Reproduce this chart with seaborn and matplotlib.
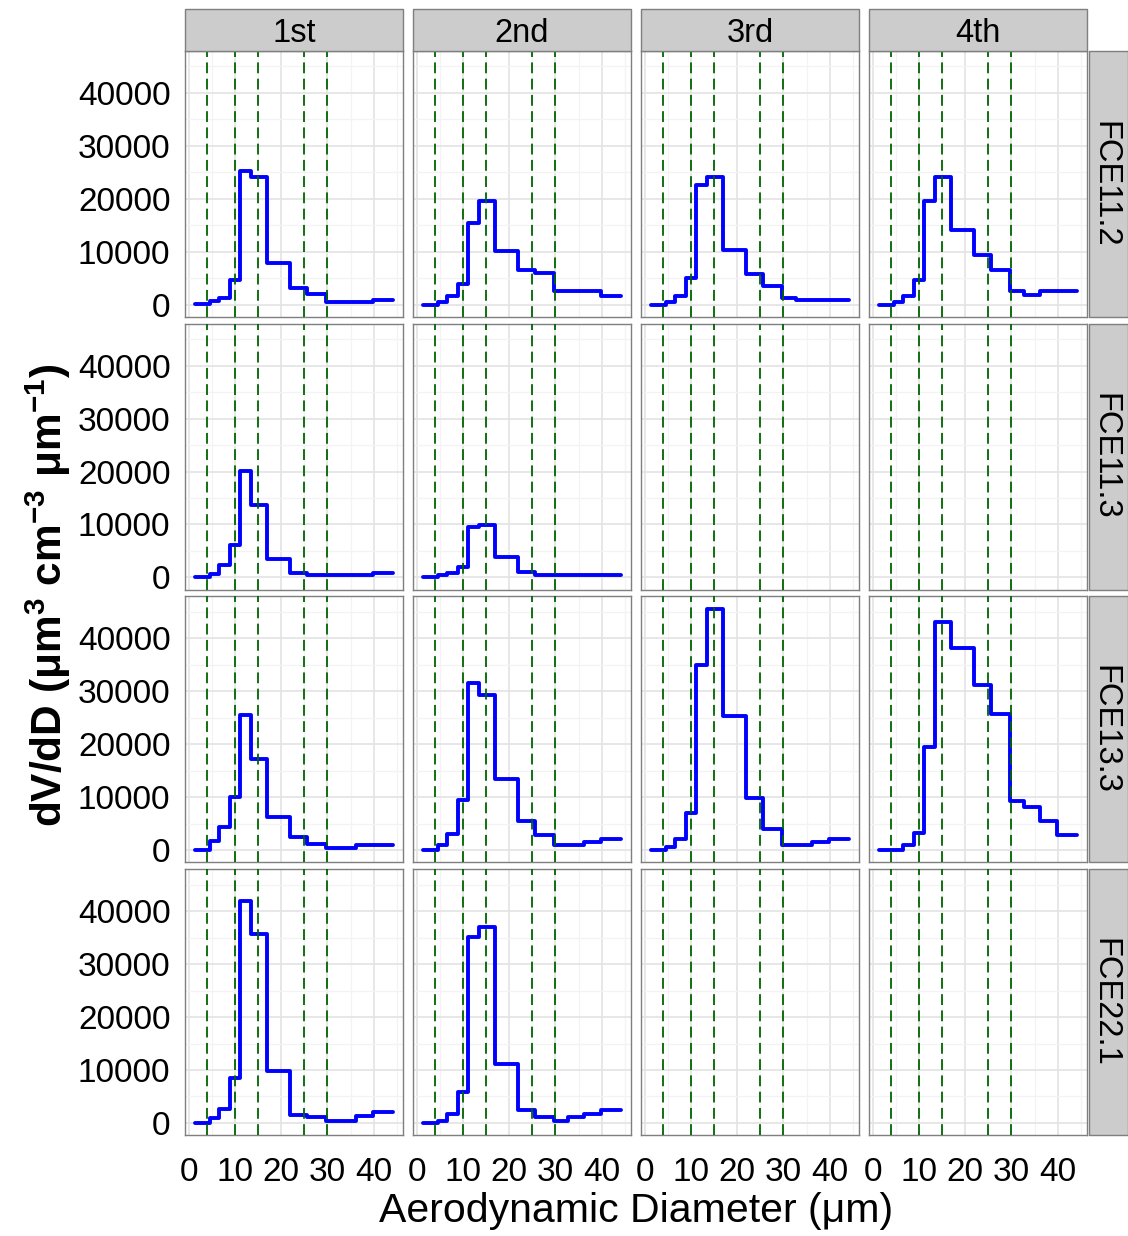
import numpy as np
import pandas as pd
import matplotlib
matplotlib.use("Agg")
import matplotlib.pyplot as plt
from matplotlib.patches import Rectangle
from matplotlib.ticker import MultipleLocator
import seaborn as sns

# ---------------- data ----------------
diameter = [1.3, 4.5, 6.5, 9.0, 11.1, 13.4, 16.9, 21.8, 25.6, 29.6, 32.8, 36.1, 39.9, 44.2]

sites = ["FCE11.2", "FCE11.3", "FCE13.3", "FCE22.1"]
visits = ["1st", "2nd", "3rd", "4th"]

fce112_1st = [130, 630, 1270, 4680, 25300, 24180, 7850, 3160, 2030, 440, 440, 440, 890, 890]
fce112_2nd = [0, 440, 1580, 3920, 15440, 19560, 10060, 6580, 5950, 2530, 2530, 2530, 1580, 1580]
fce112_3rd = [0, 440, 1580, 5060, 22600, 24180, 10380, 5820, 3480, 1270, 890, 890, 890, 890]
fce112_4th = [0, 440, 1710, 4680, 19560, 24180, 14050, 9300, 6580, 2530, 1900, 2530, 2530, 2530]

fce113_1st = [0, 570, 2340, 6140, 20190, 13670, 3420, 760, 440, 440, 440, 440, 760, 760]
fce113_2nd = [0, 440, 760, 1900, 9490, 9940, 3800, 1080, 440, 440, 440, 440, 440, 440]

fce133_1st = [60, 1650, 4300, 10000, 25570, 17150, 6200, 2400, 1200, 380, 380, 890, 890, 890]
fce133_2nd = [60, 1010, 3100, 9560, 31520, 29300, 13480, 5440, 2780, 890, 890, 1520, 2150, 2150]
fce133_3rd = [60, 510, 2150, 7030, 35060, 45630, 25380, 9870, 4050, 1010, 1010, 1520, 2150, 2150]
fce133_4th = [60, 60, 890, 3230, 19490, 43100, 38160, 31200, 25700, 9240, 8100, 5440, 2780, 2780]

fce221_1st = [0, 890, 2660, 8540, 41900, 35760, 9750, 1580, 1080, 440, 440, 1270, 2030, 2030]
fce221_2nd = [0, 440, 1710, 5820, 35060, 36960, 11080, 2530, 1080, 440, 1080, 1710, 2530, 2530]

series = {
    ("FCE11.2", "1st"): fce112_1st, ("FCE11.2", "2nd"): fce112_2nd,
    ("FCE11.2", "3rd"): fce112_3rd, ("FCE11.2", "4th"): fce112_4th,
    ("FCE11.3", "1st"): fce113_1st, ("FCE11.3", "2nd"): fce113_2nd,
    ("FCE13.3", "1st"): fce133_1st, ("FCE13.3", "2nd"): fce133_2nd,
    ("FCE13.3", "3rd"): fce133_3rd, ("FCE13.3", "4th"): fce133_4th,
    ("FCE22.1", "1st"): fce221_1st, ("FCE22.1", "2nd"): fce221_2nd,
}

cut_sizes = [4, 10, 15, 25, 30]
x_ticks = [0, 10, 20, 30, 40]
y_ticks = [0, 10000, 20000, 30000, 40000]

records = []
for (site, visit), vals in series.items():
    for d, v in zip(diameter, vals):
        records.append({"site": site, "visit": visit, "diameter": d, "dvdd": v})
df = pd.DataFrame(records)

# ---------------- style ----------------
sns.set_theme(style="white")
plt.rcParams["font.family"] = ["Liberation Sans", "DejaVu Sans"]
plt.rcParams["mathtext.fontset"] = "custom"
plt.rcParams["mathtext.rm"] = "Liberation Sans"
plt.rcParams["mathtext.bf"] = "Liberation Sans:bold"
plt.rcParams["mathtext.it"] = "Liberation Sans:italic"

W, H = 1128, 1236
panel_w = 218.0
panel_h = 265.75

g = sns.FacetGrid(df, row="site", col="visit", row_order=sites, col_order=visits,
                  sharex=True, sharey=True, height=panel_h / 100,
                  aspect=panel_w / panel_h, despine=False)
g.map_dataframe(sns.lineplot, x="diameter", y="dvdd", drawstyle="steps-post",
                color="#0000FF", lw=2.8, estimator=None, zorder=2)

fig = g.figure
fig.set_size_inches(W / 100, H / 100)

xr = max(diameter) - min(diameter)
xlim = (min(diameter) - 0.05 * xr, max(diameter) + 0.05 * xr)
yr = df["dvdd"].max() - df["dvdd"].min()
ylim = (df["dvdd"].min() - 0.05 * yr, df["dvdd"].max() + 0.05 * yr)

strip_h = 42.0
strip_w = 39.0
nrow, ncol = g.axes.shape
for i in range(nrow):
    for j in range(ncol):
        ax = g.axes[i, j]
        ax.set_title("")
        ax.set_xlabel("")
        ax.set_ylabel("")
        ax.set_xlim(*xlim)
        ax.set_ylim(*ylim)
        ax.set_xticks(x_ticks)
        ax.set_yticks(y_ticks)
        ax.xaxis.set_minor_locator(MultipleLocator(5))
        ax.yaxis.set_minor_locator(MultipleLocator(5000))
        ax.set_facecolor("white")
        ax.set_axisbelow(True)
        ax.grid(which="major", color="#E3E3E3", lw=1.2)
        ax.grid(which="minor", color="#F3F3F3", lw=0.9)
        for sp in ax.spines.values():
            sp.set_color("#7F7F7F")
            sp.set_linewidth(1.0)
        for c in cut_sizes:
            ax.axvline(c, color="#006400", lw=1.3, linestyle=(0, (6, 3)), zorder=3)
        ax.tick_params(axis="x", which="major", length=4.5 if i == nrow - 1 else 0,
                       width=1, color="#333333", labelsize=24, pad=11, labelcolor="black")
        ax.tick_params(axis="y", which="major", length=4.5 if j == 0 else 0,
                       width=1, color="#333333", labelsize=24, pad=6, labelcolor="black")
        ax.tick_params(which="minor", length=0)
        # top strips
        if i == 0:
            hh = strip_h / panel_h
            ax.add_patch(Rectangle((0, 1.0), 1, hh, transform=ax.transAxes, clip_on=False,
                                   facecolor="#CCCCCC", edgecolor="#7F7F7F", lw=1.0, zorder=5))
            ax.text(0.5, 1.0 + hh / 2 - 4.0 / panel_h, visits[j], transform=ax.transAxes,
                    ha="center", va="center", fontsize=23.5, color="black", zorder=6)
        # right strips
        if j == ncol - 1:
            ww = strip_w / panel_w
            x0 = 1.0 + 2.0 / panel_w
            ax.add_patch(Rectangle((x0, 0), ww, 1, transform=ax.transAxes, clip_on=False,
                                   facecolor="#CCCCCC", edgecolor="#7F7F7F", lw=1.0, zorder=5))
            ax.text(x0 + ww / 2 - 4.0 / panel_w, 0.5, sites[i], transform=ax.transAxes,
                    ha="center", va="center", rotation=-90, fontsize=23.5, color="black",
                    zorder=6)

fig.subplots_adjust(left=185 / W, right=1087 / W, top=1 - 51 / H, bottom=1 - 1135 / H,
                    wspace=10 / panel_w, hspace=7 / panel_h)

fig.text(636 / W, 1 - 1211 / H, "Aerodynamic Diameter (\u03bcm)", ha="center", va="center",
         fontsize=29.5, color="black")
fig.text(48 / W, 1 - 595 / H, r"$\mathbf{dV/dD\ (\mu m^3\ cm^{-3}\ \mu m^{-1})}$",
         ha="center", va="center", rotation=90, fontsize=30.5, color="black")

fig.savefig("out.png", dpi=100)
